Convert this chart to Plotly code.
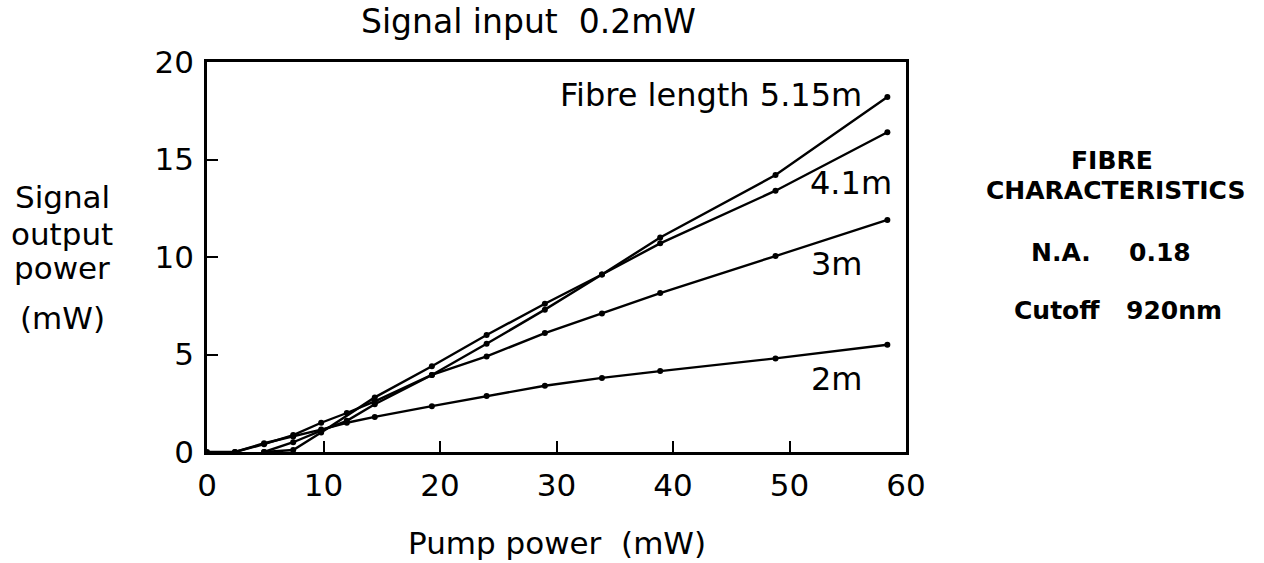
import plotly.graph_objects as go

# ---- data ----
pump_2m = [0, 2.4, 4.9, 7.4, 9.8, 12.0, 14.4, 19.3, 24.0, 29.0, 33.9, 38.9, 48.8, 58.4]
out_2m = [0, 0, 0.45, 0.8, 1.15, 1.5, 1.8, 2.35, 2.87, 3.4, 3.8, 4.15, 4.8, 5.5]

pump_3m = [2.4, 4.9, 7.4, 9.8, 12.0, 14.4, 19.3, 24.0, 29.0, 33.9, 38.9, 48.8, 58.4]
out_3m = [0, 0.4, 0.87, 1.5, 2.0, 2.6, 3.95, 4.9, 6.1, 7.1, 8.15, 10.05, 11.9]

pump_41m = [4.9, 7.4, 9.8, 12.0, 14.4, 19.3, 24.0, 29.0, 33.9, 38.9, 48.8, 58.4]
out_41m = [0, 0.5, 1.1, 1.6, 2.45, 3.95, 5.55, 7.3, 9.1, 10.7, 13.4, 16.4]

pump_515m = [4.9, 7.4, 9.8, 14.4, 19.3, 24.0, 29.0, 33.9, 38.9, 48.8, 58.4]
out_515m = [0, 0.1, 1.0, 2.8, 4.4, 6.0, 7.6, 9.1, 11.0, 14.2, 18.2]

series = [
    ("2m", pump_2m, out_2m),
    ("3m", pump_3m, out_3m),
    ("4.1m", pump_41m, out_41m),
    ("5.15m", pump_515m, out_515m),
]

x_ticks = [0, 10, 20, 30, 40, 50, 60]
y_ticks = [0, 5, 10, 15, 20]

FONT = "DejaVu Sans"
BIG = 31

fig = go.Figure()
for name, xs, ys in series:
    fig.add_trace(go.Scatter(
        x=xs, y=ys, mode="lines+markers", name=name,
        line=dict(color="black", width=2.4),
        marker=dict(color="black", size=6),
        cliponaxis=False,
    ))

axis_common = dict(
    showline=True, linecolor="black", linewidth=2.6, mirror=True,
    ticks="inside", ticklen=11, tickwidth=2, tickcolor="black",
    showgrid=False, zeroline=False,
    tickfont=dict(family=FONT, size=BIG, color="black"),
)
fig.update_xaxes(range=[0, 60], tickvals=x_ticks, ticklabelstandoff=4, **axis_common)
fig.update_yaxes(range=[0, 20], tickvals=y_ticks, ticklabelstandoff=4, **axis_common)

annotations = []
def txt(text, x, y, xref="x", yref="y", size=BIG, xanchor="center", bold=False):
    annotations.append(dict(
        text=f"<b>{text}</b>" if bold else text, x=x, y=y, xref=xref, yref=yref,
        showarrow=False, xanchor=xanchor, yanchor="middle",
        font=dict(family=FONT, size=size, color="black"),
    ))

# in-plot labels
txt("Fibre length 5.15m", 56.4, 18.3, size=32, xanchor="right")
txt("4.1m", 55.3, 13.8, size=32)
txt("3m", 54.1, 9.65, size=32)
txt("2m", 54.1, 3.75, size=32)

# title and axis titles (paper coordinates)
PW, PH = 699.0, 390.0
def px(xp): return (xp - 207) / PW
def py(yp): return (452 - yp) / PH

txt("Signal input  0.2mW", px(528), py(22), "paper", "paper", size=33)
txt("Pump power  (mW)", px(557), py(543), "paper", "paper")
for line, yy in [("Signal", 197), ("output", 234), ("power", 268), ("(mW)", 318)]:
    txt(line, px(62), py(yy), "paper", "paper")

# side panel
SIDE = 25
txt("FIBRE", px(1112), py(160), "paper", "paper", size=SIDE, bold=True)
txt("CHARACTERISTICS", px(1115), py(190), "paper", "paper", size=SIDE, bold=True)
txt("N.A.", px(1029), py(252), "paper", "paper", size=SIDE, xanchor="left", bold=True)
txt("0.18", px(1127), py(252), "paper", "paper", size=SIDE, xanchor="left", bold=True)
txt("Cutoff", px(1012), py(310), "paper", "paper", size=SIDE, xanchor="left", bold=True)
txt("920nm", px(1124), py(310), "paper", "paper", size=SIDE, xanchor="left", bold=True)

fig.update_layout(
    width=1264, height=563,
    margin=dict(l=207, r=358, t=62, b=111),
    paper_bgcolor="white", plot_bgcolor="white",
    showlegend=False,
    annotations=annotations,
    font=dict(family=FONT, color="black"),
)

fig.write_html("out.html")
